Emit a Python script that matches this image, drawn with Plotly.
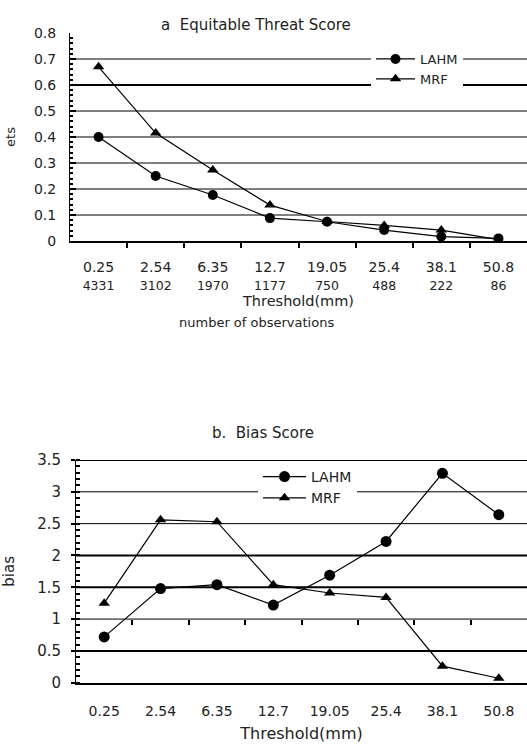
import plotly.graph_objects as go

categories = ["0.25", "2.54", "6.35", "12.7", "19.05", "25.4", "38.1", "50.8"]
n_obs = [4331, 3102, 1970, 1177, 750, 488, 222, 86]

ets_lahm = [0.40, 0.25, 0.177, 0.088, 0.074, 0.042, 0.017, 0.010]
ets_mrf = [0.67, 0.415, 0.273, 0.138, 0.075, 0.060, 0.042, 0.005]

bias_lahm = [0.72, 1.48, 1.54, 1.22, 1.69, 2.22, 3.29, 2.64]
bias_mrf = [1.25, 2.56, 2.53, 1.54, 1.41, 1.34, 0.26, 0.07]

ets_ticks = [0, 0.1, 0.2, 0.3, 0.4, 0.5, 0.6, 0.7, 0.8]
bias_ticks = [0, 0.5, 1, 1.5, 2, 2.5, 3, 3.5]
ets_grid_thin = [0.1, 0.2, 0.3, 0.4, 0.5, 0.7]
ets_grid_thick = [0.6]
bias_grid_thin = [1, 2.5, 3]
bias_grid_thick = [0.5, 1.5, 2, 3.5]

FONT = "DejaVu Sans, Liberation Sans, Arial, sans-serif"
TXT = "#222222"
W, H = 527, 747
N = len(categories)
cat_index = list(range(N))                     # category slots on the x axes
cat_bounds = [i + 0.5 for i in cat_index[:-1]]  # boundaries between categories

fig = go.Figure()

fig.add_trace(go.Scatter(x=cat_index, y=ets_lahm, name="LAHM", mode="lines+markers",
                         line=dict(color="black", width=1.2),
                         marker=dict(symbol="circle", size=10, color="black"),
                         xaxis="x", yaxis="y", legend="legend"))
fig.add_trace(go.Scatter(x=cat_index, y=ets_mrf, name="MRF", mode="lines+markers",
                         line=dict(color="black", width=1.2),
                         marker=dict(symbol="triangle-up", size=10, color="black"),
                         xaxis="x", yaxis="y", legend="legend"))
fig.add_trace(go.Scatter(x=cat_index, y=bias_lahm, name="LAHM", mode="lines+markers",
                         line=dict(color="black", width=1.2),
                         marker=dict(symbol="circle", size=11, color="black"),
                         xaxis="x2", yaxis="y2", legend="legend2"))
fig.add_trace(go.Scatter(x=cat_index, y=bias_mrf, name="MRF", mode="lines+markers",
                         line=dict(color="black", width=1.2),
                         marker=dict(symbol="triangle-up", size=10, color="black"),
                         xaxis="x2", yaxis="y2", legend="legend2"))
# invisible trace carrying the category-boundary tick axis drawn along bias = 1
fig.add_trace(go.Scatter(x=cat_index, y=bias_lahm, mode="markers",
                         marker=dict(opacity=0), showlegend=False, hoverinfo="skip",
                         xaxis="x3", yaxis="y3"))

top_dom = [1 - 241 / H, 1 - 33 / H]
bot_dom = [1 - 682.7 / H, 1 - 460 / H]

ticktext_top = [f"{c}<br><span style='font-size:12.5px'>{n}</span>" for c, n in zip(categories, n_obs)]

shapes = []
for v in ets_grid_thin:
    shapes.append(dict(type="line", xref="x domain", yref="y", x0=0, x1=1, y0=v, y1=v,
                       line=dict(color="black", width=1), layer="below"))
for v in ets_grid_thick:
    shapes.append(dict(type="line", xref="x domain", yref="y", x0=0, x1=1, y0=v, y1=v,
                       line=dict(color="black", width=2), layer="below"))
for v in bias_grid_thin:
    shapes.append(dict(type="line", xref="x2 domain", yref="y2", x0=0, x1=1, y0=v, y1=v,
                       line=dict(color="black", width=1), layer="below"))
for v in bias_grid_thick:
    shapes.append(dict(type="line", xref="x2 domain", yref="y2", x0=0, x1=1, y0=v, y1=v,
                       line=dict(color="black", width=2), layer="below"))

bias_one_pos = bot_dom[0] + (1 / 3.5) * (bot_dom[1] - bot_dom[0])
cat_range = [-0.5, N - 0.5]
boundary_minor = dict(ticks="outside", tickmode="array", tickvals=cat_bounds,
                      ticklen=5, tickwidth=1.5, tickcolor="black", showgrid=False)

fig.update_layout(
    width=W, height=H,
    margin=dict(l=0, r=0, t=0, b=0),
    paper_bgcolor="white", plot_bgcolor="rgba(0,0,0,0)",
    font=dict(family=FONT, color=TXT, size=13),
    shapes=shapes,
    xaxis=dict(domain=[70 / W, 1], anchor="y", type="linear", range=cat_range,
               tickmode="array", tickvals=cat_index, ticktext=ticktext_top,
               showline=True, linecolor="black", linewidth=2,
               ticks="", minor=boundary_minor,
               showgrid=False, zeroline=False, automargin=False, tickfont=dict(size=14),
               ticklabelstandoff=12,
               title=dict(text="Threshold(mm)", font=dict(size=14.5), standoff=0)),
    yaxis=dict(domain=top_dom, anchor="x", range=[0, 0.8], tickmode="array",
               tickvals=ets_ticks, ticktext=[f"{v:g}" for v in ets_ticks],
               showline=True, linecolor="black", linewidth=1,
               ticks="inside", ticklen=6, tickwidth=1.5, tickcolor="black",
               minor=dict(ticks="inside", dtick=0.02, ticklen=3, tickwidth=1.5,
                          tickcolor="black"),
               showgrid=False, zeroline=False, automargin=False, tickfont=dict(size=14),
               ticklabelstandoff=10,
               title=dict(text="ets", font=dict(size=13), standoff=15)),
    xaxis2=dict(domain=[76 / W, 1], anchor="y2", type="linear", range=cat_range,
                tickmode="array", tickvals=cat_index, ticktext=categories,
                showline=True, linecolor="black", linewidth=2,
                ticks="", showgrid=False, zeroline=False, automargin=False,
                tickfont=dict(size=14), ticklabelstandoff=14,
                title=dict(text="Threshold(mm)", font=dict(size=16), standoff=10)),
    xaxis3=dict(domain=[76 / W, 1], anchor="y3", type="linear", range=cat_range,
                tickmode="array", tickvals=cat_index, ticks="", showticklabels=False,
                minor=boundary_minor, showline=False, showgrid=False, zeroline=False,
                automargin=False),
    yaxis3=dict(domain=[bias_one_pos, bot_dom[1]], anchor="x3", range=[1, 3.5],
                visible=False, showgrid=False, zeroline=False),
    yaxis2=dict(domain=bot_dom, anchor="x2", range=[0, 3.5], tickmode="array",
                tickvals=bias_ticks, ticktext=[f"{v:g}" for v in bias_ticks],
                showline=True, linecolor="black", linewidth=1,
                ticks="outside", ticklen=4, tickwidth=1.5, tickcolor="black",
                minor=dict(ticks="inside", dtick=0.1, ticklen=4, tickwidth=1.5,
                           tickcolor="black"),
                showgrid=False, zeroline=False, automargin=False, tickfont=dict(size=15),
                ticklabelstandoff=7,
                title=dict(text="bias", font=dict(size=15), standoff=19)),
    legend=dict(x=371 / W, y=1 - 44 / H, xanchor="left", yanchor="top",
                bgcolor="white", font=dict(size=13), tracegroupgap=0,
                itemwidth=39, borderwidth=0),
    legend2=dict(x=258 / W, y=1 - 461 / H, xanchor="left", yanchor="top",
                 bgcolor="white", font=dict(size=14), tracegroupgap=0,
                 itemwidth=43, borderwidth=0),
    annotations=[
        dict(text="a\u00a0\u00a0Equitable Threat Score", xref="paper", yref="paper",
             x=256 / W, y=1 - 14 / H, showarrow=False, font=dict(size=15)),
        dict(text="number of observations", xref="paper", yref="paper",
             x=256 / W, y=1 - 322 / H, showarrow=False, font=dict(size=13)),
        dict(text="b.\u00a0\u00a0Bias Score", xref="paper", yref="paper",
             x=263 / W, y=1 - 433 / H, showarrow=False, font=dict(size=15)),
    ],
)

fig.write_html("out.html", config={"displayModeBar": False},
               post_script="document.body.style.margin='0';")
